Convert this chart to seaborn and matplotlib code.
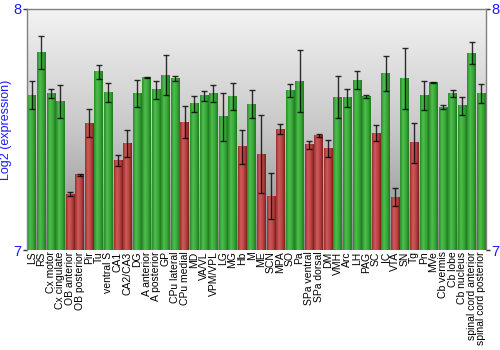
import numpy as np
import pandas as pd
import matplotlib
matplotlib.use("Agg")
import matplotlib.pyplot as plt
import seaborn as sns
from matplotlib.colors import LinearSegmentedColormap

categories = ["LS", "RS", "Cx motor", "Cx cingulate", "OB anterior", "OB posterior", "Pir", "Tu",
              "ventral S", "CA1", "CA2/CA3", "DG", "A anterior", "A posterior", "GP", "CPu lateral",
              "CPu medial", "MD", "VA/VL", "VPM/VPL", "LG", "MG", "Hb", "M",
              "ME", "SCN", "MPA", "SO", "Pa", "SPa ventral", "SPa dorsal", "DM",
              "VMH", "Arc", "LH", "PAG", "SC", "IC", "VTA", "SN",
              "Tg", "Pn", "MVe", "Cb vermis", "Cb lobe", "Cb nucleus", "spinal cord anterior", "spinal cord posterior"]
values = [7.643, 7.820, 7.649, 7.617, 7.232, 7.312, 7.526, 7.739,
          7.654, 7.373, 7.440, 7.649, 7.714, 7.664, 7.726, 7.712,
          7.530, 7.607, 7.640, 7.651, 7.552, 7.638, 7.429, 7.605,
          7.398, 7.224, 7.501, 7.663, 7.701, 7.437, 7.474, 7.422,
          7.634, 7.631, 7.705, 7.636, 7.484, 7.733, 7.219, 7.712,
          7.445, 7.642, 7.696, 7.592, 7.649, 7.598, 7.817, 7.651]
errors = [0.058, 0.067, 0.017, 0.069, 0.008, 0.003, 0.059, 0.028,
          0.041, 0.023, 0.056, 0.055, 0.002, 0.039, 0.084, 0.010,
          0.066, 0.033, 0.021, 0.035, 0.100, 0.056, 0.071, 0.057,
          0.163, 0.095, 0.021, 0.027, 0.127, 0.017, 0.006, 0.035,
          0.088, 0.039, 0.037, 0.006, 0.033, 0.073, 0.037, 0.125,
          0.083, 0.060, 0.002, 0.008, 0.015, 0.038, 0.046, 0.039]
groups = ["up", "up", "up", "up", "down", "down", "down", "up",
          "up", "down", "down", "up", "up", "up", "up", "up",
          "down", "up", "up", "up", "up", "up", "down", "up",
          "down", "down", "down", "up", "up", "down", "down", "down",
          "up", "up", "up", "up", "down", "up", "down", "up",
          "down", "up", "up", "up", "up", "up", "up", "up"]
y_ticks = [7, 8]

df = pd.DataFrame({"region": categories, "value": values, "err": errors, "group": groups})

sns.set_style("white")
plt.rcParams['font.family'] = ['Liberation Sans', 'DejaVu Sans']

fig = plt.figure(figsize=(5, 3.5), dpi=100)
ax = fig.add_axes([0.054, 0.2857, 0.918, 0.6886])

palette = {"up": "#2f9e2f", "down": "#b23a3a"}
sns.barplot(data=df, x="region", y="value", hue="group", palette=palette, dodge=False,
            width=0.9, legend=False, ax=ax, order=categories, linewidth=0)

ymin, ymax = 7, 8
n = len(categories)

# background vertical gradient
bg = LinearSegmentedColormap.from_list("bg", ["#8a8a8a", "#c8c8c8", "#f3f3f3"])
grad = np.linspace(0, 1, 256).reshape(-1, 1)
ax.imshow(grad, extent=[-0.5, n - 0.5, ymin, ymax], origin="lower",
          cmap=bg, aspect="auto", zorder=0)

# horizontal gradient inside each bar
green_cm = LinearSegmentedColormap.from_list("g", ["#2a8a2a", "#4cc04c", "#3aa83a", "#1f7a1f"])
red_cm = LinearSegmentedColormap.from_list("r", ["#9a3030", "#d05a5a", "#b84444", "#7e2020"])
hgrad = np.linspace(0, 1, 64).reshape(1, -1)
for patch in list(ax.patches):
    x0 = patch.get_x()
    w = patch.get_width()
    h = patch.get_height()
    y0 = patch.get_y()
    if not np.isfinite(h) or h == 0:
        continue
    idx = int(round(x0 + w / 2))
    cm = green_cm if groups[idx] == "up" else red_cm
    ax.imshow(hgrad, extent=[x0, x0 + w, y0, y0 + h], cmap=cm, aspect="auto", zorder=2)
    patch.set_zorder(1)

ax.errorbar(np.arange(n), values, yerr=errors, fmt="none",
            ecolor="black", elinewidth=1, capsize=2, capthick=1, alpha=0.8, zorder=3)

ax.set_ylim(ymin, ymax)
ax.set_xlim(-0.5, n - 0.5)

ax.set_yticks(y_ticks)
ax.set_yticklabels([str(t) for t in y_ticks], color="#1a1aff", fontsize=10.5)
ax.tick_params(axis="y", which="both", left=True, right=True, labelleft=True, labelright=True,
               length=3, width=1, color="#333333", pad=1, direction="out")
ax.tick_params(axis="x", bottom=False, length=0, pad=1)
ax.set_xticks(np.arange(n))
ax.set_xticklabels(categories, rotation=90, fontsize=7.5, color="black")
ax.set_xlabel("")
ax.set_ylabel("Log2 (expression)", color="#1a1aff", fontsize=9, labelpad=1)

for side in ["left", "top", "right"]:
    ax.spines[side].set_visible(True)
    ax.spines[side].set_color("#808080")
    ax.spines[side].set_linewidth(1)
ax.spines["bottom"].set_visible(False)

fig.savefig("out.png", dpi=100)
